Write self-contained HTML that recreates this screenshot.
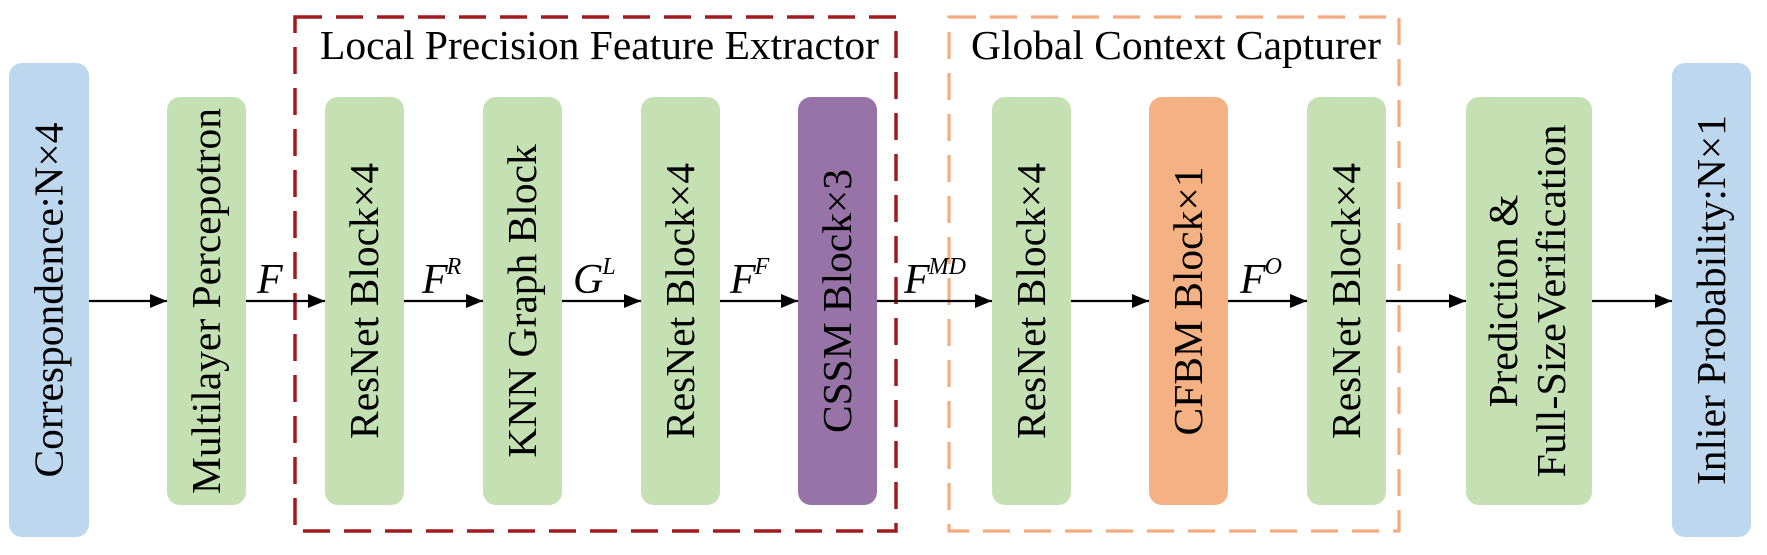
<!DOCTYPE html>
<html>
<head>
<meta charset="utf-8">
<style>
  html, body { margin: 0; padding: 0; background: #ffffff; }
  body { width: 1767px; height: 555px; overflow: hidden; }
  svg { display: block; }
  svg text, svg tspan { font-family: "Liberation Serif", "Times New Roman", "DejaVu Serif", "Noto Serif CJK SC", serif; fill: #000; }
</style>
</head>
<body>
<svg width="1767" height="555" viewBox="0 0 1767 555" xmlns="http://www.w3.org/2000/svg">
  <defs>
    <marker id="ah" markerWidth="17" markerHeight="14" refX="17" refY="7" orient="auto" markerUnits="userSpaceOnUse">
      <path d="M0,0 L17,7 L0,14 Z" fill="#000"/>
    </marker>
  </defs>

  <!-- dashed group boxes -->
  <rect x="295" y="17" width="601" height="514" fill="none" stroke="#A11A1E" stroke-width="3.5" stroke-dasharray="27 14"/>
  <rect x="949" y="17" width="450" height="514" fill="none" stroke="#F4AC7F" stroke-width="3.2" stroke-dasharray="27 14"/>

  <text x="320" y="59" font-size="41.5" textLength="559" lengthAdjust="spacingAndGlyphs">Local Precision Feature Extractor</text>
  <text x="971" y="59" font-size="41.5" textLength="410" lengthAdjust="spacingAndGlyphs">Global Context Capturer</text>

  <!-- boxes -->
  <rect x="9" y="63" width="80" height="474" rx="13" fill="#BDD7EE"/>
  <rect x="167" y="97" width="79" height="408" rx="13" fill="#C5E0B3"/>
  <rect x="325" y="97" width="79" height="408" rx="13" fill="#C5E0B3"/>
  <rect x="483" y="97" width="79" height="408" rx="13" fill="#C5E0B3"/>
  <rect x="641" y="97" width="79" height="408" rx="13" fill="#C5E0B3"/>
  <rect x="798" y="97" width="79" height="408" rx="13" fill="#9873A8"/>
  <rect x="992" y="97" width="79" height="408" rx="13" fill="#C5E0B3"/>
  <rect x="1149" y="97" width="79" height="408" rx="13" fill="#F4B183"/>
  <rect x="1307" y="97" width="79" height="408" rx="13" fill="#C5E0B3"/>
  <rect x="1466" y="97" width="126" height="408" rx="13" fill="#C5E0B3"/>
  <rect x="1672" y="63" width="79" height="474" rx="13" fill="#BDD7EE"/>

  <!-- vertical box labels -->
  <g font-size="41.5">
    <text transform="translate(62.5,300) rotate(-90)" x="-177.5" y="0" textLength="355" lengthAdjust="spacingAndGlyphs">Correspondence:N×4</text>
    <text transform="translate(220,301) rotate(-90)" x="-193" y="0" textLength="386" lengthAdjust="spacingAndGlyphs">Multilayer Percepotron</text>
    <text transform="translate(378,301) rotate(-90)" x="-138" y="0" textLength="276" lengthAdjust="spacingAndGlyphs">ResNet Block×4</text>
    <text transform="translate(536,301) rotate(-90)" x="-156.75" y="0" textLength="313.5" lengthAdjust="spacingAndGlyphs">KNN Graph Block</text>
    <text transform="translate(694,301) rotate(-90)" x="-138" y="0" textLength="276" lengthAdjust="spacingAndGlyphs">ResNet Block×4</text>
    <text transform="translate(851,301) rotate(-90)" x="-132" y="0" textLength="264" lengthAdjust="spacingAndGlyphs">CSSM Block×3</text>
    <text transform="translate(1045,301) rotate(-90)" x="-138" y="0" textLength="276" lengthAdjust="spacingAndGlyphs">ResNet Block×4</text>
    <text transform="translate(1202,301) rotate(-90)" x="-134.5" y="0" textLength="269" lengthAdjust="spacingAndGlyphs">CFBM Block×1</text>
    <text transform="translate(1360,301) rotate(-90)" x="-138" y="0" textLength="276" lengthAdjust="spacingAndGlyphs">ResNet Block×4</text>
    <text transform="translate(1517,301) rotate(-90)" x="-106.5" y="0" textLength="213" lengthAdjust="spacingAndGlyphs">Prediction &amp;</text>
    <text transform="translate(1565,301) rotate(-90)" x="-176.5" y="0" textLength="353" lengthAdjust="spacingAndGlyphs">Full-SizeVerification</text>
    <text transform="translate(1725,300) rotate(-90)" x="-185" y="0" textLength="370" lengthAdjust="spacingAndGlyphs">Inlier Probability:N×1</text>
  </g>

  <!-- arrows -->
  <g stroke="#000" stroke-width="2.2" fill="none">
    <line x1="89" y1="301" x2="167" y2="301" marker-end="url(#ah)"/>
    <line x1="246" y1="301" x2="325" y2="301" marker-end="url(#ah)"/>
    <line x1="404" y1="301" x2="483" y2="301" marker-end="url(#ah)"/>
    <line x1="562" y1="301" x2="641" y2="301" marker-end="url(#ah)"/>
    <line x1="720" y1="301" x2="798" y2="301" marker-end="url(#ah)"/>
    <line x1="877" y1="301" x2="992" y2="301" marker-end="url(#ah)"/>
    <line x1="1071" y1="301" x2="1149" y2="301" marker-end="url(#ah)"/>
    <line x1="1228" y1="301" x2="1307" y2="301" marker-end="url(#ah)"/>
    <line x1="1386" y1="301" x2="1466" y2="301" marker-end="url(#ah)"/>
    <line x1="1592" y1="301" x2="1672" y2="301" marker-end="url(#ah)"/>
  </g>

  <!-- arrow labels -->
  <g font-size="42" font-style="italic">
    <text x="257" y="293">F</text>
    <text x="422" y="293">F<tspan font-size="24" dy="-19" dx="-1">R</tspan></text>
    <text x="573" y="293">G<tspan font-size="24" dy="-19" dx="-1">L</tspan></text>
    <text x="730" y="293">F<tspan font-size="24" dy="-19" dx="-1">F</tspan></text>
    <text x="904" y="293">F<tspan font-size="24" dy="-19" dx="-1">MD</tspan></text>
    <text x="1240" y="293">F<tspan font-size="24" dy="-19" dx="-1">O</tspan></text>
  </g>
</svg>
</body>
</html>
